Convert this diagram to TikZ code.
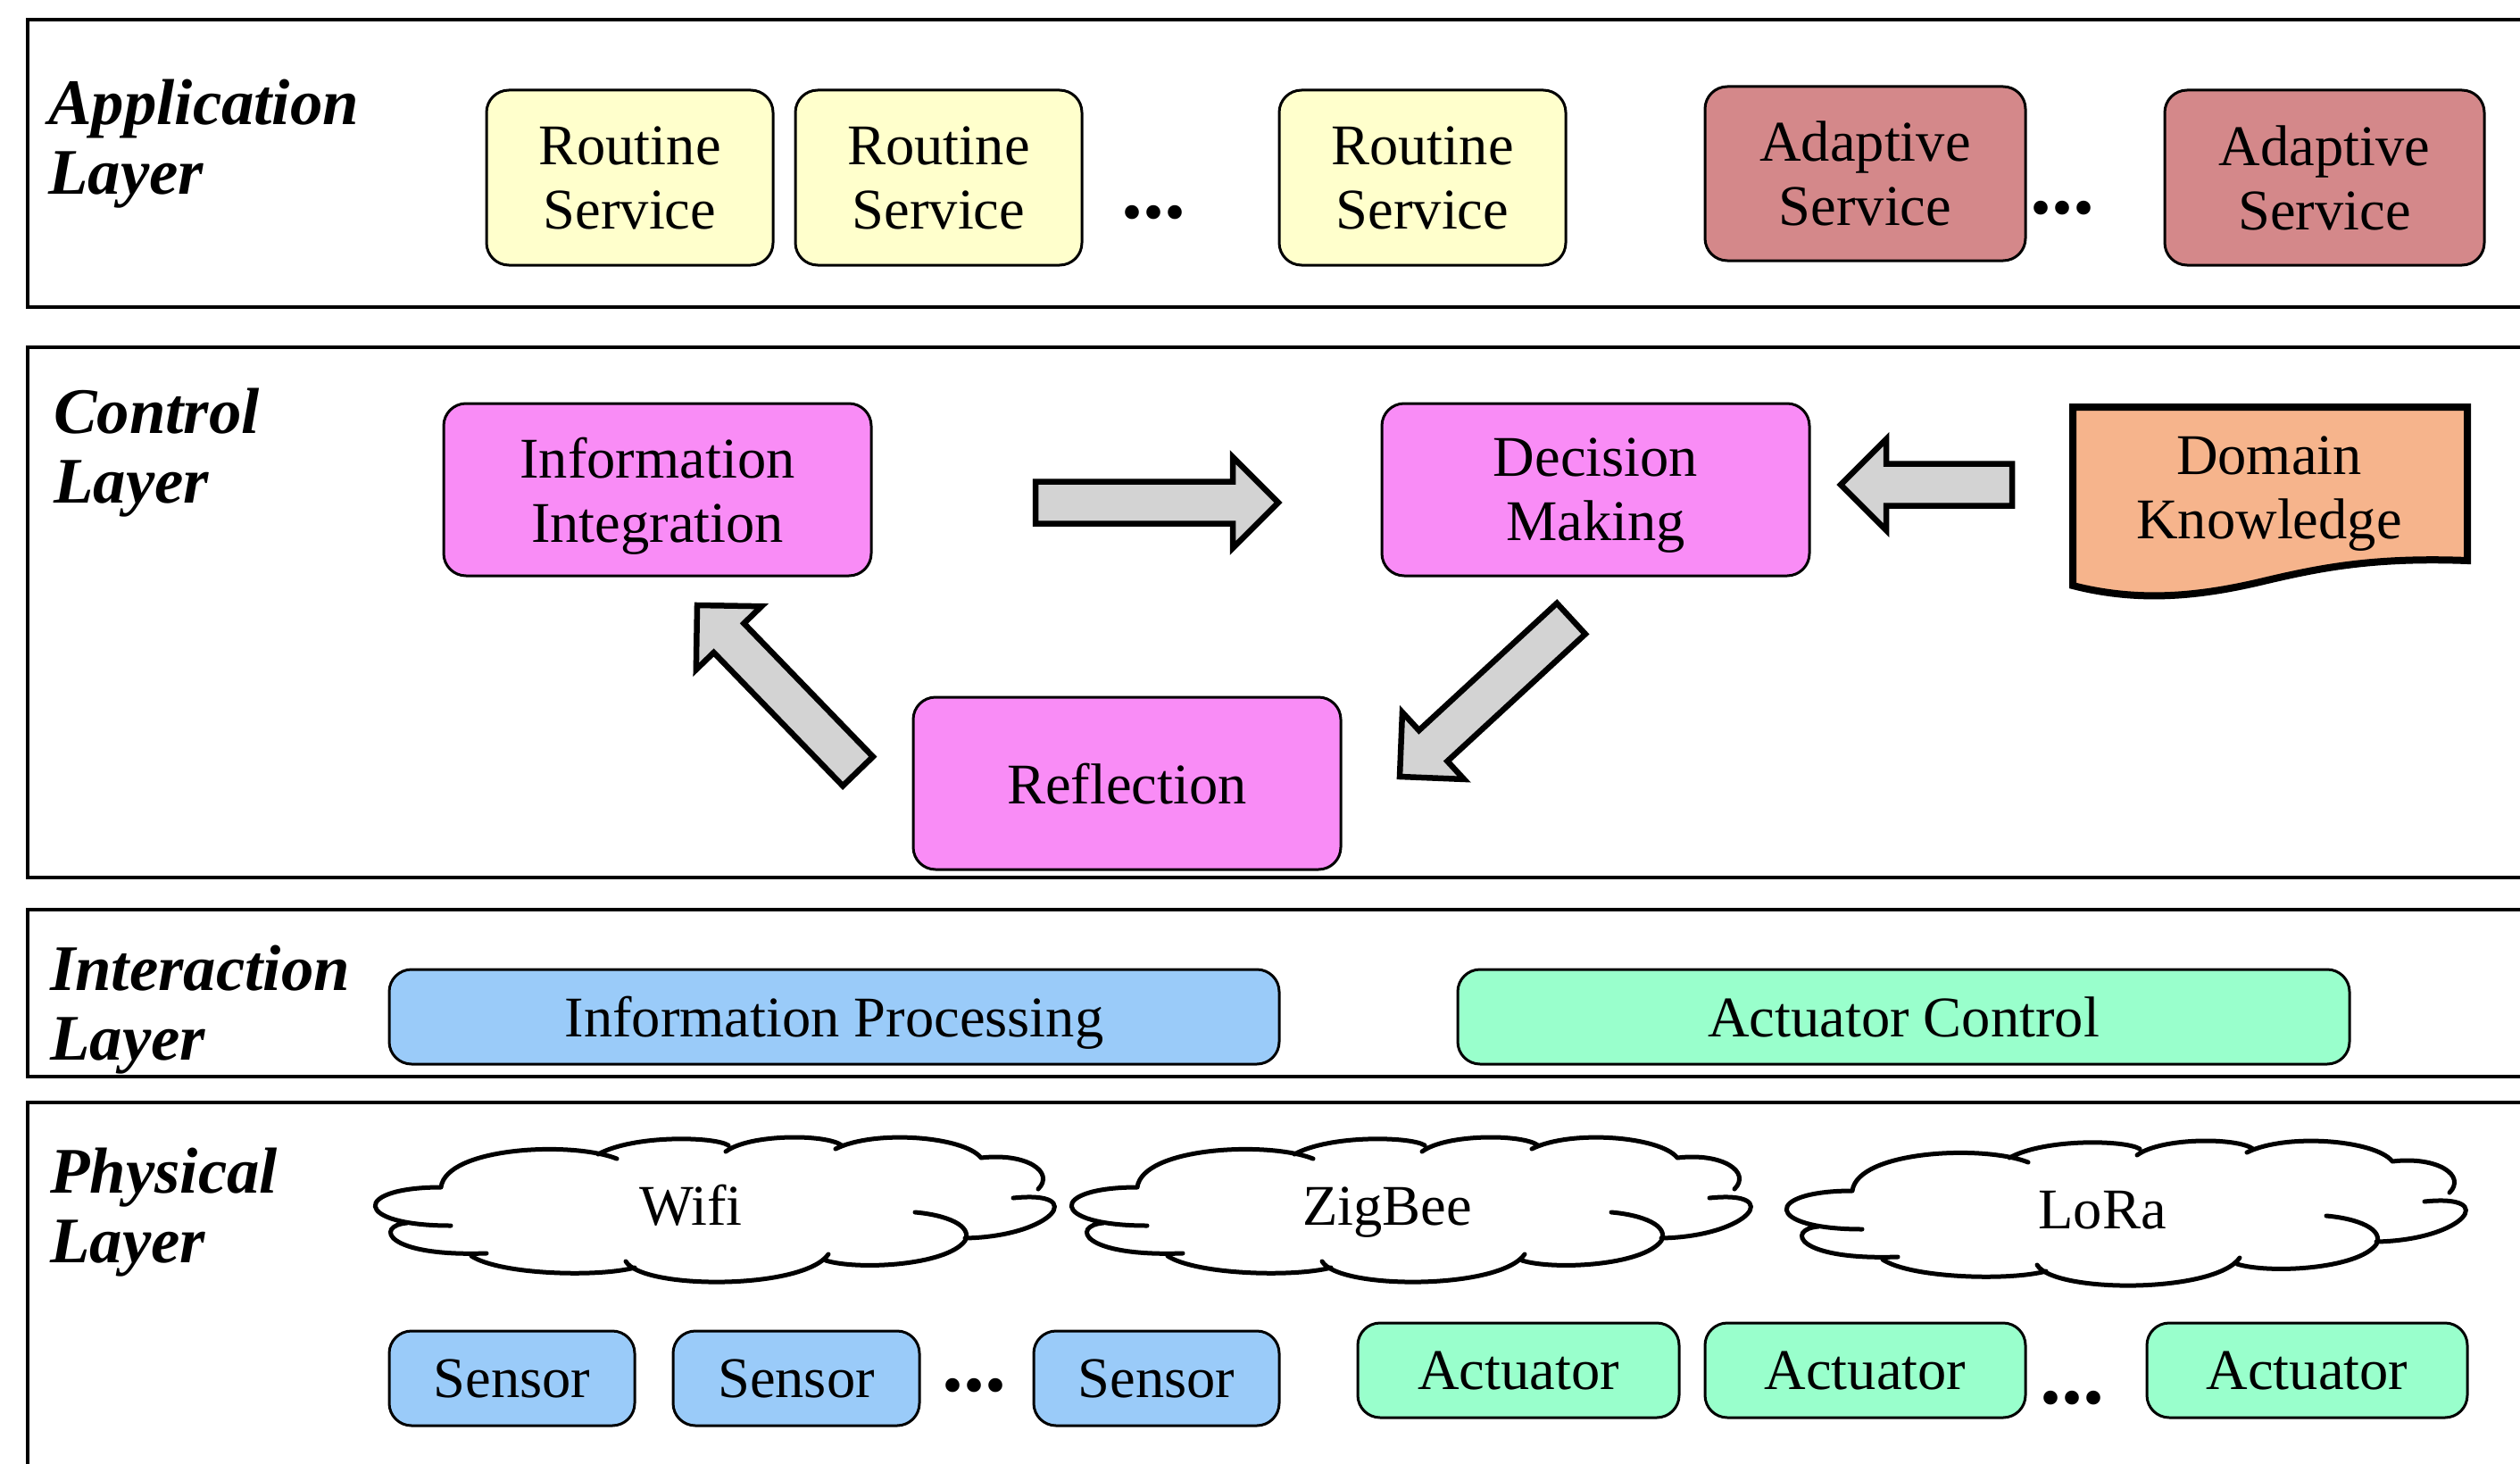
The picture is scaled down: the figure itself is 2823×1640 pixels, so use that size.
\documentclass[tikz,border=0pt]{standalone}
\usepackage{fontspec}
\setmainfont{Liberation Serif}
\usetikzlibrary{calc}
\definecolor{routinefill}{HTML}{FFFFCC}
\definecolor{adaptfill}{HTML}{D4888A}
\definecolor{pinkfill}{HTML}{F98CF6}
\definecolor{domainfill}{HTML}{F6B48C}
\definecolor{bluefill}{HTML}{9ACBF9}
\definecolor{greenfill}{HTML}{99FFCC}
\definecolor{arrowfill}{HTML}{D3D3D3}
\newcommand\mynodefont{\fontsize{64.5}{72}\selectfont}
\newcommand\mylabelfont{\fontsize{72.8}{78}\selectfont\bfseries\itshape}
\newcommand\mydotsfont{\fontsize{96}{96}\selectfont\bfseries}
\newcommand\blockarrow[3]{%
  \path ($(#2)!51pt!(#1)$) coordinate (#3);
  \draw[blockarr] ($(#1)!23.5pt!90:(#2)$) -- ($(#3)!23.5pt!90:(#2)$) -- ($(#3)!51pt!90:(#2)$) -- (#2) -- ($(#3)!51pt!-90:(#2)$) -- ($(#3)!23.5pt!-90:(#2)$) -- ($(#1)!23.5pt!-90:(#2)$) -- cycle;}
\newcommand\cloudoutline[2]{%
 \begin{scope}[shift={(#1,#2)}]
  \draw[cloudline]
   (74,57) .. controls (-26,57) and (-26,100) .. (85,100)
   (36,97) .. controls (0,100) and (10,135) .. (125,131)
   (108,134) .. controls (140,155) and (250,158) .. (291,147)
   (281,140) .. controls (300,172) and (480,172) .. (508,132)
   (505,139) .. controls (540,150) and (640,145) .. (661,117) .. controls (670,100) and (640,88) .. (605,85)
   (661,114) .. controls (760,112) and (800,60) .. (715,69)
   (743,59) .. controls (762,40) and (730,18) .. (679,24)
   (679,24) .. controls (660,0) and (560,-8) .. (516,14)
   (523,10) .. controls (505,-3) and (420,-3) .. (393,17)
   (396,10) .. controls (380,0) and (290,-2) .. (250,20)
   (271,25) .. controls (220,5) and (80,12) .. (74,57);
 \end{scope}}
\tikzset{
  box/.style={draw, line width=3pt, rounded corners=25pt, align=center, font=\mynodefont, inner sep=0pt, text depth=0pt},
  layer/.style={draw, line width=3.5pt},
  layerlabel/.style={font=\mylabelfont, align=left, anchor=north west, inner sep=0pt},
  blockarr/.style={draw, line width=6.5pt, fill=arrowfill, line join=miter},
  dotsnode/.style={font=\mydotsfont, inner sep=0pt, anchor=base},
  cloudline/.style={line width=5pt, line cap=round},
  cloudtext/.style={font=\mynodefont, inner sep=0pt, anchor=base},
  svc/.style={box, minimum width=321pt, minimum height=196pt},
  ctl/.style={box, fill=pinkfill, minimum width=479pt, minimum height=193pt},
  bar/.style={box, minimum height=106pt},
}
\begin{document}
\begin{tikzpicture}[x=1pt, y=-1pt]
\useasboundingbox (0,0) rectangle (2823,1640);
% layers
\draw[layer] (31,22) rectangle (2900,344);
\draw[layer] (31,389) rectangle (2900,983);
\draw[layer] (31,1019) rectangle (2900,1206);
\draw[layer] (31,1235) rectangle (2900,1700);
\node[layerlabel] (lapp) at (54,89) {Application\\Layer};
\node[layerlabel] (lctl) at (60,435) {Control\\Layer};
\node[layerlabel] (lint) at (56,1059) {Interaction\\Layer};
\node[layerlabel] (lphy) at (56,1286) {Physical\\Layer};
% application layer
\node[svc, fill=routinefill] (r1) at (705.5,199) {Routine\\Service};
\node[svc, fill=routinefill] (r2) at (1051.5,199) {Routine\\Service};
\node[dotsnode] (d1) at (1292,244) {...};
\node[svc, fill=routinefill] (r3) at (1593.5,199) {Routine\\Service};
\node[svc, fill=adaptfill, minimum width=359pt, minimum height=195pt] (a1) at (2089.5,194.5) {Adaptive\\Service};
\node[dotsnode] (d2) at (2310,240) {...};
\node[svc, fill=adaptfill, minimum width=358pt] (a2) at (2604,199) {Adaptive\\Service};
% control layer
\node[ctl] (ii) at (736.5,548.5) {Information\\Integration};
\node[ctl] (dm) at (1787.5,548.5) {Decision\\Making};
\node[ctl] (rf) at (1262.5,877.5) {Reflection};
\draw[line width=8pt, line join=miter, fill=domainfill] (2322,456) -- (2764,456) -- (2764,628)
  .. controls (2660,624) and (2600,636) .. (2540,650)
  .. controls (2470,667) and (2400,676) .. (2322,656) -- cycle;
\node[font=\mynodefont, align=center, inner sep=0pt, text depth=0pt] (dk) at (2542,546) {Domain\\Knowledge};
\coordinate (a1s) at (1160,563); \coordinate (a1e) at (1432,563);
\coordinate (a2s) at (2254,543); \coordinate (a2e) at (2062,543);
\coordinate (a3s) at (1760,693); \coordinate (a3e) at (1568,870);
\coordinate (a4s) at (961,864);  \coordinate (a4e) at (781,678);
\blockarrow{a1s}{a1e}{a1h}
\blockarrow{a2s}{a2e}{a2h}
\blockarrow{a3s}{a3e}{a3h}
\blockarrow{a4s}{a4e}{a4h}
% interaction layer
\node[bar, fill=bluefill, minimum width=997pt] (ip) at (934.5,1139) {Information Processing};
\node[bar, fill=greenfill, minimum width=999pt] (ac) at (2132.5,1139) {Actuator Control};
% physical layer
\cloudoutline{420}{1273}
\cloudoutline{1200}{1273}
\cloudoutline{2001}{1277}
\node[cloudtext] (wifi) at (774,1372) {Wifi};
\node[cloudtext] (zig) at (1554,1372) {ZigBee};
\node[cloudtext] (lora) at (2355,1376) {LoRa};
\node[bar, fill=bluefill, minimum width=275pt] (s1) at (573.5,1544) {Sensor};
\node[bar, fill=bluefill, minimum width=276pt] (s2) at (892,1544) {Sensor};
\node[dotsnode] (d3) at (1091,1558) {...};
\node[bar, fill=bluefill, minimum width=275pt] (s3) at (1295.5,1544) {Sensor};
\node[bar, fill=greenfill, minimum width=360pt] (t1) at (1701,1535) {Actuator};
\node[bar, fill=greenfill, minimum width=359pt] (t2) at (2089.5,1535) {Actuator};
\node[dotsnode] (d4) at (2321,1572) {...};
\node[bar, fill=greenfill, minimum width=359pt] (t3) at (2584.5,1535) {Actuator};
\end{tikzpicture}
\end{document}
